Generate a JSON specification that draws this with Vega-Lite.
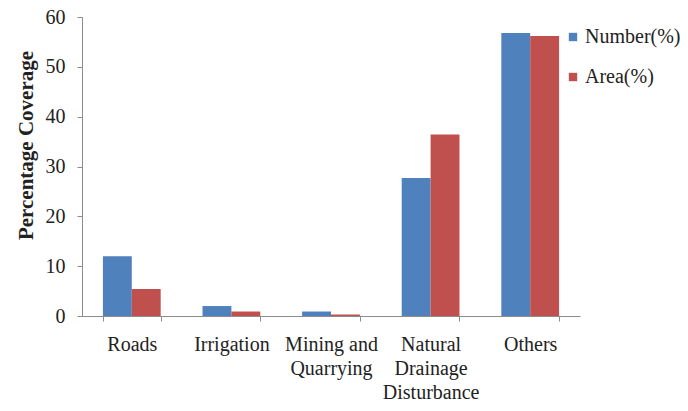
{
  "$schema": "https://vega.github.io/schema/vega-lite/v6.json",
  "width": 498,
  "height": 299,
  "autosize": {"type": "none"},
  "padding": {"left": 82, "top": 17, "right": 108, "bottom": 95},
  "background": "white",
  "data": {
    "values": [
      {"category": "Roads", "measure": "Number(%)", "value": 12.0},
      {"category": "Roads", "measure": "Area(%)", "value": 5.4},
      {"category": "Irrigation", "measure": "Number(%)", "value": 2.0},
      {"category": "Irrigation", "measure": "Area(%)", "value": 0.9},
      {"category": "Mining and Quarrying", "measure": "Number(%)", "value": 0.9},
      {"category": "Mining and Quarrying", "measure": "Area(%)", "value": 0.3},
      {"category": "Natural Drainage Disturbance", "measure": "Number(%)", "value": 27.7},
      {"category": "Natural Drainage Disturbance", "measure": "Area(%)", "value": 36.4},
      {"category": "Others", "measure": "Number(%)", "value": 56.8},
      {"category": "Others", "measure": "Area(%)", "value": 56.2}
    ]
  },
  "config": {
    "font": "Times New Roman",
    "view": {"stroke": null},
    "axis": {
      "domainColor": "#8c8c8c",
      "tickColor": "#8c8c8c",
      "labelColor": "#222222",
      "titleColor": "#222222",
      "labelFont": "Times New Roman",
      "titleFont": "Times New Roman",
      "grid": false
    },
    "legend": {
      "labelFont": "Times New Roman"
    }
  },
  "mark": {"type": "bar"},
  "encoding": {
    "x": {
      "field": "category",
      "type": "nominal",
      "sort": null,
      "scale": {"paddingInner": 0.42, "paddingOuter": 0.21},
      "axis": {
        "title": null,
        "labelAngle": 0,
        "labelFontSize": 20,
        "labelPadding": 13,
        "labelLineHeight": 24,
        "tickSize": 5,
        "tickBand": "extent",
        "labelExpr": "datum.value == 'Mining and Quarrying' ? ['Mining and', 'Quarrying'] : datum.value == 'Natural Drainage Disturbance' ? ['Natural', 'Drainage', 'Disturbance'] : datum.value"
      }
    },
    "xOffset": {
      "field": "measure",
      "type": "nominal",
      "sort": ["Number(%)", "Area(%)"]
    },
    "y": {
      "field": "value",
      "type": "quantitative",
      "scale": {"domain": [0, 60], "nice": false},
      "axis": {
        "title": "Percentage Coverage",
        "titleFontSize": 21,
        "titleFontWeight": "bold",
        "titlePadding": 9,
        "titleY": 128,
        "labelFontSize": 20,
        "labelPadding": 12,
        "tickSize": 5,
        "values": [0, 10, 20, 30, 40, 50, 60]
      }
    },
    "color": {
      "field": "measure",
      "type": "nominal",
      "sort": ["Number(%)", "Area(%)"],
      "scale": {"range": ["#4f81bd", "#c0504d"]},
      "legend": {
        "title": null,
        "orient": "none",
        "legendX": 481,
        "legendY": 10,
        "symbolType": "square",
        "symbolSize": 70,
        "symbolStrokeWidth": 0,
        "labelFontSize": 20,
        "labelOffset": 2,
        "rowPadding": 20,
        "labelColor": "#222222"
      }
    }
  }
}
